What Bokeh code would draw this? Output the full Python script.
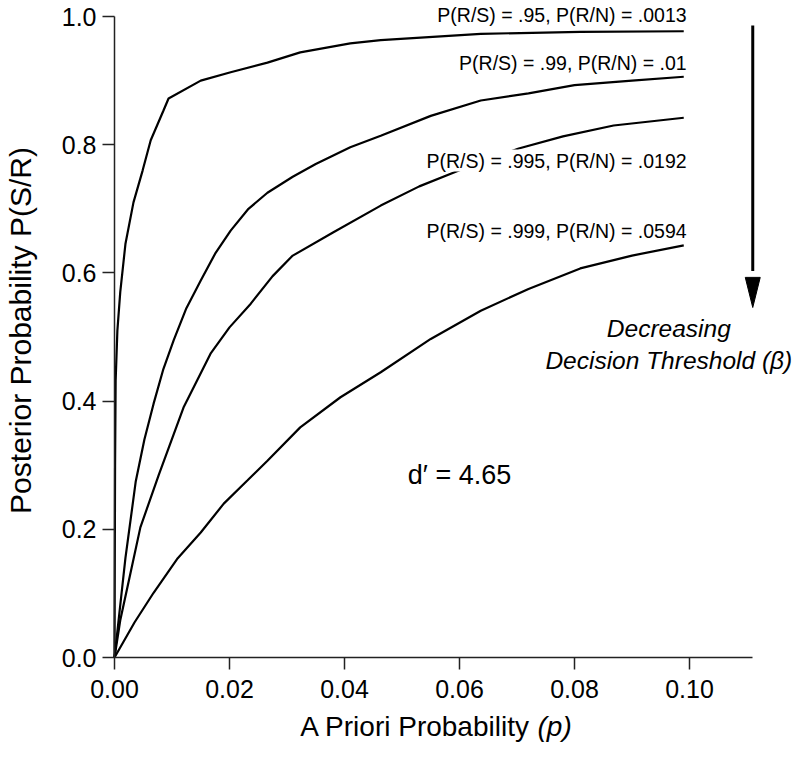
import math
from bokeh.plotting import figure
from bokeh.models import Range1d, FixedTicker, PrintfTickFormatter, Label
from bokeh.embed import file_html
from bokeh.resources import INLINE

# ---- data ----
x_c1 = [0, 0.0001, 0.0002, 0.0005, 0.001, 0.0019, 0.0033, 0.0049, 0.0063, 0.0085, 0.0094,
        0.015, 0.0202, 0.0266, 0.0323, 0.041, 0.0463, 0.0637, 0.081, 0.099]
y_c1 = [0, 0.30, 0.432, 0.51, 0.57, 0.645, 0.71, 0.76, 0.807, 0.853, 0.872,
        0.900, 0.913, 0.928, 0.944, 0.958, 0.963, 0.973, 0.976, 0.977]

x_c2 = [0, 0.0019, 0.0037, 0.0052, 0.0068, 0.0085, 0.0103, 0.0125, 0.015, 0.0175, 0.0202,
        0.0233, 0.0266, 0.031, 0.035, 0.041, 0.0463, 0.055, 0.0637, 0.072, 0.08, 0.09, 0.099]
y_c2 = [0, 0.155, 0.275, 0.34, 0.396, 0.45, 0.495, 0.545, 0.588, 0.63, 0.666,
        0.70, 0.725, 0.75, 0.77, 0.796, 0.814, 0.845, 0.869, 0.88, 0.893, 0.90, 0.906]

x_c3 = [0, 0.001, 0.0025, 0.0045, 0.0077, 0.012, 0.0167, 0.02, 0.0237, 0.0275, 0.031,
        0.038, 0.0463, 0.053, 0.060, 0.0703, 0.078, 0.0868, 0.099]
y_c3 = [0, 0.058, 0.12, 0.203, 0.285, 0.39, 0.474, 0.515, 0.552, 0.595, 0.627,
        0.663, 0.705, 0.735, 0.76, 0.794, 0.813, 0.83, 0.842]

x_c4 = [0, 0.0035, 0.0068, 0.011, 0.015, 0.019, 0.0231, 0.0266, 0.0323, 0.0393, 0.0463,
        0.055, 0.0637, 0.072, 0.081, 0.09, 0.099]
y_c4 = [0, 0.055, 0.101, 0.155, 0.195, 0.24, 0.276, 0.307, 0.359, 0.406, 0.445,
        0.497, 0.541, 0.575, 0.607, 0.627, 0.643]

curve_labels = ["P(R/S) = .95, P(R/N) = .0013",
                "P(R/S) = .99, P(R/N) = .01",
                "P(R/S) = .995, P(R/N) = .0192",
                "P(R/S) = .999, P(R/N) = .0594"]
x_ticks = [0.0, 0.02, 0.04, 0.06, 0.08, 0.10]
y_ticks = [0.0, 0.2, 0.4, 0.6, 0.8, 1.0]

FONT = "Liberation Sans"
INK = "#000000"
AX = "#222222"

W, H = 795, 744
PXX, PXY = 5750, 641          # pixels per data unit (x, y)
X0, Y0 = 114, 657             # pixel position of the origin
# frame covers the whole canvas; axes sit at x = 0 and y = 0
p = figure(width=W, height=H, output_backend="svg", toolbar_location=None,
           x_range=Range1d(-X0 / PXX, (W - X0) / PXX),
           y_range=Range1d(-(H - Y0) / PXY, Y0 / PXY),
           min_border=0, min_border_left=0, min_border_right=0,
           min_border_top=0, min_border_bottom=0)
p.outline_line_color = None
p.grid.visible = False
p.background_fill_color = "white"
p.border_fill_color = "white"

for ax in (p.xaxis[0], p.yaxis[0]):
    ax.fixed_location = 0
    ax.axis_line_color = AX
    ax.axis_line_width = 1.5
    ax.major_tick_line_color = AX
    ax.major_tick_line_width = 1.5
    ax.major_tick_out = 12
    ax.major_tick_in = 0
    ax.minor_tick_line_color = None
    ax.major_label_text_font = FONT
    ax.major_label_text_font_size = "25px"
    ax.major_label_text_color = INK

p.xaxis.major_label_standoff = 10
p.yaxis.major_label_standoff = 6
p.xaxis.ticker = FixedTicker(ticks=x_ticks)
p.yaxis.ticker = FixedTicker(ticks=y_ticks)
p.xaxis.formatter = PrintfTickFormatter(format="%.2f")
p.yaxis.formatter = PrintfTickFormatter(format="%.1f")
p.xaxis.bounds = (0, 0.111)
p.yaxis.bounds = (0, 1.0)

# curves
for xs, ys in ((x_c1, y_c1), (x_c2, y_c2), (x_c3, y_c3), (x_c4, y_c4)):
    p.line(xs, ys, line_color=INK, line_width=2.2)

# curve labels (right aligned)
label_y = [1.0016, 0.9282, 0.7753, 0.6661]
for i, (txt, ly) in enumerate(zip(curve_labels, label_y)):
    lab = Label(x=0.0995, y=ly, text=txt, text_align="right", text_baseline="middle",
                text_font=FONT, text_font_size="19.5px", text_color=INK)
    if i == 2:
        lab.background_fill_color = "white"
    p.add_layout(lab)

# d' annotation
p.add_layout(Label(x=0.0600, y=0.284, text="d\u2032 = 4.65", text_align="center",
                   text_baseline="middle", text_font=FONT, text_font_size="27px",
                   text_color=INK))

# decreasing threshold annotation
p.add_layout(Label(x=0.0964, y=0.513, text="Decreasing", text_align="center",
                   text_baseline="middle", text_font=FONT, text_font_size="24.5px",
                   text_font_style="italic", text_color=INK))
p.add_layout(Label(x=0.0964, y=0.463, text="Decision Threshold (\u03b2)", text_align="center",
                   text_baseline="middle", text_font=FONT, text_font_size="24.5px",
                   text_font_style="italic", text_color=INK))

# arrow
ax_x, ay_top, ay_base, ay_tip, half_w = 0.111, 0.986, 0.593, 0.546, 0.0013
p.segment(x0=[ax_x], y0=[ay_top], x1=[ax_x], y1=[ay_base + 0.01], line_color=INK, line_width=3)
p.patch([ax_x - half_w, ax_x + half_w, ax_x], [ay_base, ay_base, ay_tip],
        fill_color=INK, line_color=INK, line_width=1)

# axis titles
p.add_layout(Label(x=(530 - X0) / PXX, y=(Y0 - 726) / PXY, text="A Priori Probability",
                   text_align="right", text_baseline="middle", text_font=FONT,
                   text_font_size="28px", text_color=INK))
p.add_layout(Label(x=(537 - X0) / PXX, y=(Y0 - 726) / PXY, text="(p)", text_align="left",
                   text_baseline="middle", text_font=FONT, text_font_size="28px",
                   text_font_style="italic", text_color=INK))
p.add_layout(Label(x=(20 - X0) / PXX, y=(Y0 - 330) / PXY, text="Posterior Probability P(S/R)",
                   angle=math.pi / 2, text_align="center", text_baseline="middle",
                   text_font=FONT, text_font_size="30px", text_color=INK))

open("out.html", "w").write(file_html(p, INLINE))
